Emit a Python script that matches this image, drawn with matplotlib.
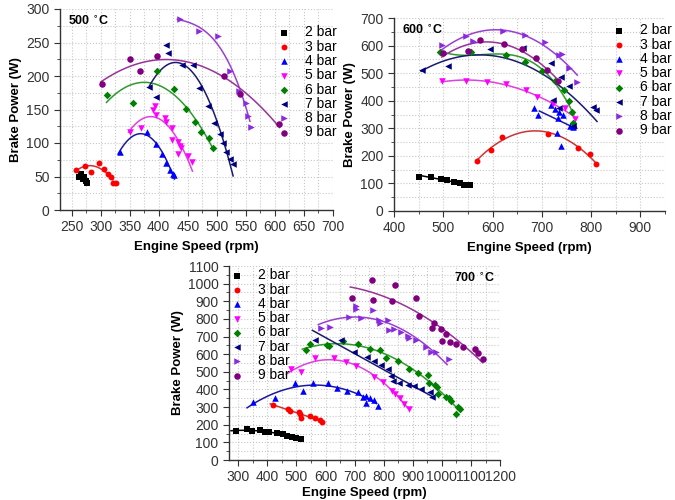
import matplotlib
matplotlib.use('Agg')
import matplotlib.pyplot as plt
import numpy as np
from matplotlib.ticker import MultipleLocator

plt.rcParams['font.family'] = ['Liberation Sans', 'DejaVu Sans']

labels = ['2 bar', '3 bar', '4 bar', '5 bar', '6 bar', '7 bar', '8 bar', '9 bar']

# ---- 500 C ----
x500_2 = [263, 266, 269, 271, 274, 277]
y500_2 = [49, 53, 46, 50, 44, 41]
x500_3 = [257, 273, 284, 297, 306, 313, 318, 321, 326]
y500_3 = [60, 66, 56, 70, 61, 54, 49, 40, 40]
x500_4 = [333, 379, 396, 406, 413, 419, 424, 427]
y500_4 = [87, 117, 99, 84, 70, 60, 54, 52]
x500_5 = [350, 370, 390, 393, 396, 410, 413, 422, 422, 433, 436, 439, 433, 450, 458]
y500_5 = [117, 122, 149, 155, 142, 137, 132, 122, 105, 102, 95, 92, 84, 80, 71]
x500_6 = [311, 356, 397, 426, 447, 462, 473, 486, 493]
y500_6 = [171, 160, 207, 181, 151, 131, 117, 108, 92]
x500_7 = [384, 396, 413, 416, 440, 459, 469, 485, 496, 505, 511, 516, 522, 528]
y500_7 = [183, 169, 247, 235, 217, 217, 182, 155, 130, 113, 100, 87, 76, 68]
x500_8 = [436, 470, 502, 522, 539, 551, 554, 559]
y500_8 = [285, 267, 259, 208, 178, 159, 140, 124]
x500_9 = [302, 350, 367, 397, 513, 540, 607]
y500_9 = [188, 226, 208, 230, 200, 173, 128]

# ---- 600 C ----
x600_2 = [451, 476, 496, 507, 521, 533, 543, 555]
y600_2 = [125, 124, 117, 112, 106, 102, 96, 93]
x600_3 = [569, 596, 619, 712, 773, 798, 810]
y600_3 = [183, 222, 270, 279, 229, 205, 170]
x600_4 = [684, 693, 719, 726, 732, 735, 743, 730, 739, 757, 763, 766]
y600_4 = [372, 350, 386, 371, 338, 358, 350, 283, 235, 308, 305, 312]
x600_5 = [497, 546, 588, 628, 667, 690, 722, 748, 768]
y600_5 = [470, 472, 469, 460, 438, 412, 388, 372, 334]
x600_6 = [494, 557, 627, 665, 701, 726, 746, 756, 761, 764]
y600_6 = [576, 576, 565, 541, 507, 470, 440, 400, 360, 320]
x600_7 = [456, 510, 594, 661, 719, 739, 756, 723, 735, 803, 809, 763]
y600_7 = [510, 525, 588, 591, 537, 485, 452, 404, 374, 378, 366, 310]
x600_8 = [497, 546, 561, 621, 665, 706, 735, 741, 756, 771]
y600_8 = [603, 633, 615, 654, 640, 612, 567, 570, 519, 467]
x600_9 = [500, 551, 574, 623, 659, 689, 710, 733]
y600_9 = [573, 579, 619, 606, 588, 555, 510, 470]

# ---- 700 C ----
x700_2 = [292, 329, 346, 375, 390, 406, 433, 452, 467, 485, 500, 516]
y700_2 = [164, 177, 162, 170, 157, 157, 151, 145, 138, 132, 126, 117]
x700_3 = [419, 470, 477, 508, 513, 516, 548, 565, 580, 588]
y700_3 = [311, 292, 279, 274, 260, 240, 251, 236, 226, 213]
x700_4 = [350, 427, 496, 523, 557, 609, 638, 673, 712, 730, 738, 738, 753, 765, 781]
y700_4 = [330, 353, 438, 391, 438, 438, 406, 391, 387, 355, 362, 325, 349, 340, 306]
x700_5 = [481, 517, 565, 629, 669, 704, 767, 796, 827, 839, 857, 871, 888]
y700_5 = [515, 500, 581, 581, 557, 532, 468, 443, 392, 374, 353, 317, 287]
x700_6 = [534, 548, 606, 611, 661, 712, 753, 788, 808, 848, 886, 917, 952, 954, 977,
          984, 986, 1015, 1023, 1033, 1056, 1050, 1061]
y700_6 = [623, 657, 651, 645, 675, 660, 632, 623, 581, 560, 515, 491, 481, 438, 428,
          415, 377, 358, 349, 336, 298, 260, 292]
x700_7 = [565, 654, 698, 744, 765, 790, 813, 825, 831, 854, 883, 903, 929, 958, 966]
y700_7 = [683, 683, 613, 585, 562, 538, 515, 475, 447, 434, 425, 419, 400, 383, 355]
x700_8 = [585, 615, 681, 704, 705, 721, 762, 785, 788, 813, 819, 834, 860, 883, 888,
          912, 946, 961, 981, 1023]
y700_8 = [750, 755, 811, 858, 872, 806, 849, 796, 777, 796, 736, 745, 726, 704, 689,
          679, 638, 613, 613, 575]
x700_9 = [759, 840, 692, 764, 827, 912, 921, 973, 966, 996, 1015, 1000, 1027, 1050,
          1073, 1113, 1123, 1142]
y700_9 = [1019, 991, 921, 909, 900, 921, 817, 779, 751, 745, 717, 675, 670, 657,
          638, 628, 608, 572]

# fitted curves: (degree, start rpm, end rpm) per series, None = no curve
fit_500 = [None, (2, 257, 321), (2, 330, 427), (2, 348, 458), (2, 310, 493),
           (2, 384, 528), (3, 432, 557), (2, 300, 608)]
fit_600 = [(1, 451, 555), (2, 569, 810), (1, 695, 757), (2, 496, 770),
           (3, 493, 765), (2, 455, 812), (2, 496, 772), (2, 497, 735)]
fit_700 = [(2, 275, 505), (1, 410, 590), (2, 330, 775), (2, 465, 885),
           (2, 520, 1050), (1, 555, 965), (2, 575, 1018), (2, 685, 1140)]

colors = ['#000000', '#ff0000', '#0000ff', '#ff00ff', '#008000', '#000080', '#8a2be2', '#800080']
line_colors = ['#000000', '#cc3333', '#1a1aa0', '#e040e0', '#2e9a2e', '#1a1a70', '#9a40d0', '#993399']
markers = ['s', 'o', '^', 'v', 'D', '<', '>', 'o']
sizes = [16, 18, 22, 22, 15, 22, 22, 22]


def draw(ax, xs, ys, fits, temp, xlim, ylim, xmaj, ymaj, leg_loc, leg_anchor, temp_pos, xpad):
    for i in range(8):
        ax.scatter(xs[i], ys[i], s=sizes[i], marker=markers[i], color=colors[i],
                   label=labels[i], zorder=3, linewidths=0)
        f = fits[i]
        if f is not None:
            deg, a, b = f
            c = np.polyfit(xs[i], ys[i], deg)
            xx = np.linspace(a, b, 100)
            ax.plot(xx, np.polyval(c, xx), color=line_colors[i], lw=1.1, zorder=2)
    ax.set_xlim(*xlim)
    ax.set_ylim(*ylim)
    ax.xaxis.set_major_locator(MultipleLocator(xmaj))
    ax.xaxis.set_minor_locator(MultipleLocator(xmaj / 2))
    ax.yaxis.set_major_locator(MultipleLocator(ymaj))
    ax.yaxis.set_minor_locator(MultipleLocator(ymaj / 2))
    ax.grid(True, which='both', color='#c8c8c8', linestyle=':', linewidth=0.8)
    ax.set_axisbelow(True)
    for s in ['top', 'right']:
        ax.spines[s].set_visible(False)
    for s in ['left', 'bottom']:
        ax.spines[s].set_color('#333333')
        ax.spines[s].set_linewidth(1.0)
    ax.tick_params(which='major', direction='out', length=4, labelsize=10, colors='#333333')
    ax.tick_params(which='minor', direction='out', length=2, colors='#333333')
    ax.set_xlabel('Engine Speed (rpm)', fontsize=9.5, fontweight='bold', labelpad=xpad)
    ax.set_ylabel('Brake Power (W)', fontsize=9.5, fontweight='bold', labelpad=3)
    ax.text(temp_pos[0], temp_pos[1], temp, transform=ax.transAxes, fontsize=9,
            fontweight='bold', ha=temp_pos[2], va='top')
    ax.legend(loc=leg_loc, bbox_to_anchor=leg_anchor, frameon=False, fontsize=10,
              handlelength=1.0, handletextpad=1.0, labelspacing=0.02, borderpad=0.1,
              borderaxespad=0.0, markerscale=1.0)


fig = plt.figure(figsize=(6.75, 5), dpi=100)
ax1 = fig.add_axes([0.0889, 0.58, 0.4044, 0.402])
ax2 = fig.add_axes([0.5837, 0.578, 0.4015, 0.386])
ax3 = fig.add_axes([0.3393, 0.08, 0.4015, 0.388])

draw(ax1,
     [x500_2, x500_3, x500_4, x500_5, x500_6, x500_7, x500_8, x500_9],
     [y500_2, y500_3, y500_4, y500_5, y500_6, y500_7, y500_8, y500_9],
     fit_500, '500 $^{\\circ}$C', (230, 700), (0, 300), 50, 50,
     'upper left', (0.79, 0.925), (0.03, 0.97, 'left'), 5)
draw(ax2,
     [x600_2, x600_3, x600_4, x600_5, x600_6, x600_7, x600_8, x600_9],
     [y600_2, y600_3, y600_4, y600_5, y600_6, y600_7, y600_8, y600_9],
     fit_600, '600 $^{\\circ}$C', (400, 950), (0, 700), 100, 100,
     'upper left', (0.80, 0.98), (0.03, 0.97, 'left'), 5)
draw(ax3,
     [x700_2, x700_3, x700_4, x700_5, x700_6, x700_7, x700_8, x700_9],
     [y700_2, y700_3, y700_4, y700_5, y700_6, y700_7, y700_8, y700_9],
     fit_700, '700 $^{\\circ}$C', (268, 1200), (0, 1100), 100, 100,
     'upper left', (0.0, 0.995), (0.98, 0.97, 'right'), 2)

fig.savefig('out.png', dpi=100)
